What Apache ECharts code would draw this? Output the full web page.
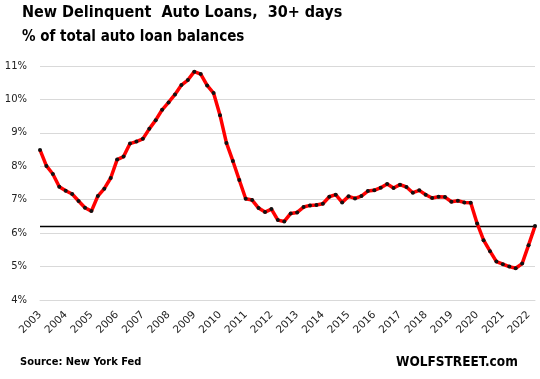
<!DOCTYPE html>
<html>
<head>
<meta charset="utf-8">
<script src="https://cdn.jsdelivr.net/npm/echarts@6/dist/echarts.min.js"></script>
<style>html,body{margin:0;padding:0;background:#fff}#c{width:540px;height:379px}</style>
</head>
<body>
<div id="c"></div>
<script>
const years = ['2003','2004','2005','2006','2007','2008','2009','2010','2011','2012','2013','2014','2015','2016','2017','2018','2019','2020','2021','2022'];
const quarters = ['Q1','Q2','Q3','Q4'];
const delinquentPct = [
  8.49, 8.01, 7.77, 7.39, 7.27, 7.17, 6.96, 6.76, 6.66, 7.11,
  7.33, 7.65, 8.20, 8.29, 8.68, 8.74, 8.82, 9.12, 9.38, 9.69,
  9.91, 10.15, 10.43, 10.58, 10.83, 10.76, 10.42, 10.19, 9.53, 8.70,
  8.16, 7.59, 7.03, 6.99, 6.75, 6.63, 6.72, 6.39, 6.35, 6.59,
  6.62, 6.78, 6.83, 6.84, 6.88, 7.09, 7.15, 6.92, 7.10, 7.04,
  7.11, 7.26, 7.28, 7.36, 7.47, 7.35, 7.45, 7.38, 7.21, 7.28,
  7.15, 7.05, 7.09, 7.08, 6.94, 6.97, 6.92, 6.91, 6.29, 5.79,
  5.46, 5.15, 5.07, 5.00, 4.95, 5.09, 5.64, 6.21
];
const yTicks = [4, 5, 6, 7, 8, 9, 10, 11];
const titleText = 'New Delinquent  Auto Loans,  30+ days';
const subtitleText = '% of total auto loan balances';
const sourceText = 'Source: New York Fed';
const brandText = 'WOLFSTREET.com';

const categories = [];
years.forEach(y => quarters.forEach(q => categories.push(y + q)));
const cats = categories.slice(0, delinquentPct.length);
const lastVal = delinquentPct[delinquentPct.length - 1];

const FONT = 'DejaVu Sans';
const FONTC = 'DejaVu Sans Condensed';
const chart = echarts.init(document.getElementById('c'), null, {renderer: 'canvas'});
chart.setOption({
  animation: false,
  backgroundColor: '#fff',
  title: [
    {text: titleText, left: 22, top: 5, padding: 0, textStyle: {fontFamily: FONTC, fontWeight: 'bold', fontSize: 16, color: '#000'}},
    {text: subtitleText, left: 22, top: 30, padding: 0, textStyle: {fontFamily: FONTC, fontWeight: 'bold', fontSize: 15, color: '#000'}},
    {text: sourceText, left: 20, top: 357, padding: 0, textStyle: {fontFamily: FONTC, fontWeight: 'bold', fontSize: 11, color: '#000'}},
    {text: brandText, left: 396, top: 355, padding: 0, textStyle: {fontFamily: FONTC, fontWeight: 'bold', fontSize: 13.5, color: '#000'}}
  ],
  grid: {left: 40, right: 5, top: 66, bottom: 79, containLabel: false},
  xAxis: {
    type: 'category',
    data: cats,
    boundaryGap: false,
    axisLine: {show: true, lineStyle: {color: '#d9d9d9', width: 1}},
    axisTick: {show: false},
    splitLine: {show: false},
    axisLabel: {
      interval: 3,
      rotate: 45,
      margin: 13,
      fontFamily: FONT,
      fontSize: 10.5,
      color: '#222',
      formatter: v => v.slice(0, 4)
    }
  },
  yAxis: {
    type: 'value',
    min: yTicks[0],
    max: yTicks[yTicks.length - 1],
    interval: 1,
    axisLine: {show: false},
    axisTick: {show: false},
    splitLine: {lineStyle: {color: '#d9d9d9', width: 1}},
    axisLabel: {margin: 13, fontFamily: FONT, fontSize: 10, color: '#222', formatter: '{value}%'}
  },
  series: [{
    type: 'line',
    data: delinquentPct,
    symbol: 'circle',
    symbolSize: 4,
    showSymbol: true,
    lineStyle: {color: '#ff0000', width: 3.5},
    itemStyle: {color: '#111'},
    z: 3,
    markLine: {
      silent: true,
      symbol: ['none', 'none'],
      label: {show: false},
      lineStyle: {color: '#000', width: 1.3, type: 'solid'},
      data: [{yAxis: lastVal}],
      z: 2
    }
  }]
});
</script>
</body>
</html>
